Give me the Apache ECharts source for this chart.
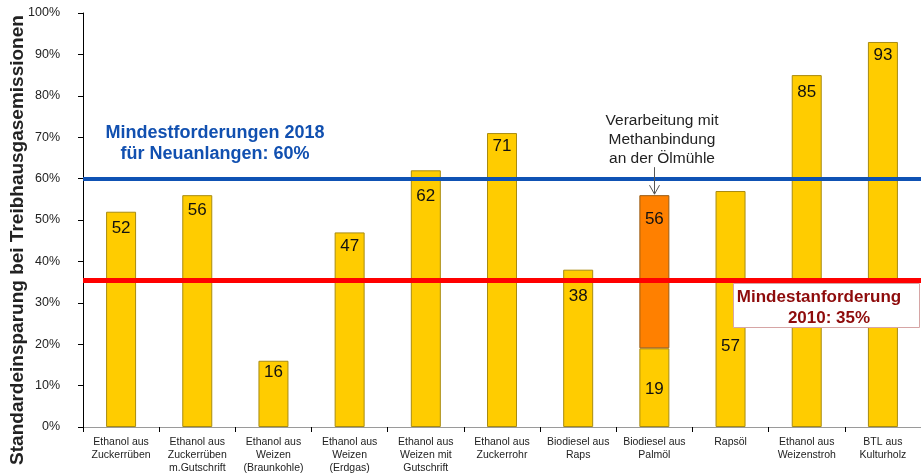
<!DOCTYPE html>
<html>
<head>
<meta charset="utf-8">
<script src="https://cdn.jsdelivr.net/npm/echarts@6/dist/echarts.min.js"></script>
<style>
html,body{margin:0;padding:0;background:#fff;}
#main{width:921px;height:475px;}
</style>
</head>
<body>
<div id="main"></div>
<script>
const categories = ['Ethanol aus\nZuckerrüben', 'Ethanol aus\nZuckerrüben\nm.Gutschrift', 'Ethanol aus\nWeizen\n(Braunkohle)', 'Ethanol aus\nWeizen\n(Erdgas)', 'Ethanol aus\nWeizen mit\nGutschrift', 'Ethanol aus\nZuckerrohr', 'Biodiesel aus\nRaps', 'Biodiesel aus\nPalmöl', 'Rapsöl', 'Ethanol aus\nWeizenstroh', 'BTL aus\nKulturholz'];
const savings = [52, 56, 16, 47, 62, 71, 38, 19, 57, 85, 93];
const methaneSavings = [null, null, null, null, null, null, null, 56, null, null, null];
const yMin = 0, yMax = 100, yInterval = 10;
const requirement2018 = 60;
const requirement2010 = 35.5;

// label vertical offsets (style only): distance of label centre below bar top, px
const labelDy = [17, 15, 12, 14, 26, 13, 27, 41, 155, 17, 13];
const methaneLabelDy = 24;

const FONT = '"Liberation Sans", Arial, sans-serif';
const chart = echarts.init(document.getElementById('main'), null, {renderer: 'canvas'});

const baseData = savings.map((v, i) => ({
  value: v,
  label: {position: ['50%', labelDy[i]]}
}));
const topData = methaneSavings.map((v, i) => v == null ? null : ({
  value: v - savings[i],
  total: v,
  label: {position: ['50%', methaneLabelDy]}
}));

const option = {
  animation: false,
  grid: {left: 83, top: 13, width: 847, height: 414},
  xAxis: {
    type: 'category',
    data: categories,
    axisLine: {lineStyle: {color: '#9a9a9a', width: 1}},
    axisTick: {show: true, length: 5, lineStyle: {color: '#000'}},
    axisLabel: {interval: 0, margin: 9, fontFamily: FONT, fontSize: 10.5, lineHeight: 13, color: '#222'}
  },
  yAxis: {
    type: 'value',
    min: yMin, max: yMax, interval: yInterval,
    axisLine: {show: true, lineStyle: {color: '#000', width: 1}},
    axisTick: {show: true, length: 5, lineStyle: {color: '#000'}},
    splitLine: {show: false},
    axisLabel: {formatter: '{value}%', margin: 23, fontFamily: FONT, fontSize: 12.5, color: '#222'}
  },
  series: [
    {
      type: 'bar',
      stack: 'a',
      barWidth: 30,
      data: baseData,
      itemStyle: {color: '#FFCC00', borderColor: '#A88B10', borderWidth: 1},
      label: {show: true, align: 'center', verticalAlign: 'middle', fontFamily: FONT, fontSize: 17, color: '#111'},
      markLine: {
        silent: true,
        symbol: 'none',
        z: 5,
        label: {show: false},
        data: [
          {yAxis: requirement2018, lineStyle: {color: '#0F52B4', width: 4, type: 'solid'}},
          {yAxis: requirement2010, lineStyle: {color: '#FF0000', width: 5, type: 'solid'}}
        ]
      }
    },
    {
      type: 'bar',
      stack: 'a',
      barWidth: 30,
      data: topData,
      itemStyle: {color: '#FF8000', borderColor: '#9A5A10', borderWidth: 1},
      label: {
        show: true, align: 'center', verticalAlign: 'middle', fontFamily: FONT, fontSize: 17, color: '#111',
        formatter: p => p.data && p.data.total != null ? String(p.data.total) : ''
      }
    }
  ]
};
chart.setOption(option);

const tip = chart.convertToPixel({xAxisIndex: 0, yAxisIndex: 0}, [7, methaneSavings[7]]);
const tx = Math.round(tip[0]) + 0.5, ty = tip[1] - 1;

chart.setOption({
  graphic: [
    {
      type: 'text', z: 100,
      rotation: Math.PI / 2,
      x: 18, y: 240,
      style: {
        text: 'Standardeinsparung bei Treibhausgasemissionen',
        font: 'bold 19px ' + FONT, fill: '#222',
        textAlign: 'center', textVerticalAlign: 'middle'
      }
    },
    {
      type: 'text', x: 215, y: 143.5, z: 100,
      style: {
        text: 'Mindestforderungen 2018\nfür Neuanlangen: 60%',
        font: 'bold 18px ' + FONT, fill: '#1150B0', lineHeight: 21.6,
        textAlign: 'center', textVerticalAlign: 'middle'
      }
    },
    {
      type: 'rect', z: 100,
      shape: {x: 733.5, y: 283.5, width: 186, height: 44},
      style: {fill: '#fff', stroke: '#D6A5A5', lineWidth: 1}
    },
    {
      type: 'text', x: 819, y: 297, z: 101,
      style: {text: 'Mindestanforderung', font: 'bold 17px ' + FONT, fill: '#8E0B0B', textAlign: 'center', textVerticalAlign: 'middle'}
    },
    {
      type: 'text', x: 829, y: 318.5, z: 101,
      style: {text: '2010: 35%', font: 'bold 17px ' + FONT, fill: '#8E0B0B', textAlign: 'center', textVerticalAlign: 'middle'}
    },
    {
      type: 'text', x: 662, y: 140, z: 100,
      style: {
        text: 'Verarbeitung mit\nMethanbindung\nan der Ölmühle',
        font: '15.5px ' + FONT, fill: '#222', lineHeight: 19,
        textAlign: 'center', textVerticalAlign: 'middle'
      }
    },
    {
      type: 'line', z: 100,
      shape: {x1: tx, y1: ty - 27, x2: tx, y2: ty},
      style: {stroke: '#555', lineWidth: 1}
    },
    {
      type: 'polyline', z: 100,
      shape: {points: [[tx - 5, ty - 9], [tx, ty], [tx + 5, ty - 9]]},
      style: {stroke: '#555', lineWidth: 1, fill: null}
    }
  ]
});
</script>
</body>
</html>
